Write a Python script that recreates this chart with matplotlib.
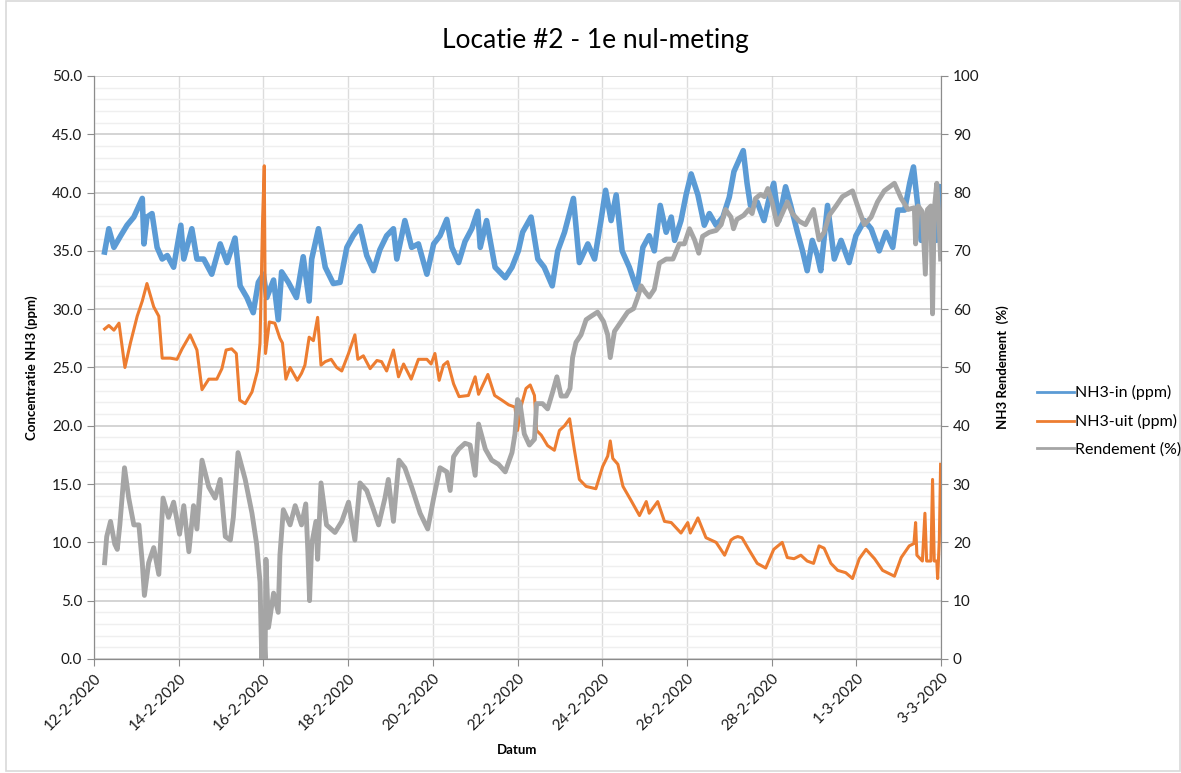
import pandas as pd
import matplotlib
matplotlib.use('Agg')
import matplotlib.pyplot as plt
from matplotlib.patches import Rectangle
from matplotlib.lines import Line2D
from matplotlib.ticker import MultipleLocator

plt.rcParams['font.family'] = ['Lato', 'DejaVu Sans']

start = pd.Timestamp('2020-02-12')

# days since 12-2-2020 00:00
in_days = [0.25, 0.35, 0.47, 0.63, 0.78, 0.94, 1.14, 1.18, 1.25, 1.37, 1.49, 1.61, 1.73, 1.88,
           2.05, 2.12, 2.31, 2.43, 2.59, 2.78, 2.98, 3.14, 3.33, 3.45, 3.61, 3.76, 3.88, 4.0,
           4.08, 4.24, 4.35, 4.43, 4.59, 4.78, 4.94, 5.08, 5.14, 5.30, 5.46, 5.65, 5.81, 5.97,
           6.12, 6.28, 6.44, 6.60, 6.75, 6.91, 7.07, 7.15, 7.34, 7.50, 7.66, 7.86, 8.02, 8.17,
           8.33, 8.45, 8.61, 8.76, 8.92, 9.06, 9.12, 9.27, 9.47, 9.71, 9.87, 10.02, 10.12, 10.32,
           10.48, 10.63, 10.82, 10.95, 11.11, 11.32, 11.46, 11.66, 11.82, 11.97, 12.08, 12.21,
           12.33, 12.47, 12.64, 12.82, 12.96, 13.11, 13.23, 13.37, 13.51, 13.63, 13.71, 13.86,
           13.98, 14.10, 14.26, 14.41, 14.53, 14.69, 14.85, 15.0, 15.11, 15.33, 15.42, 15.50,
           15.66, 15.82, 15.94, 16.05, 16.17, 16.33, 16.45, 16.61, 16.73, 16.84, 16.96, 17.08,
           17.16, 17.32, 17.48, 17.64, 17.83, 17.99, 18.19, 18.35, 18.54, 18.70, 18.86, 18.98,
           19.14, 19.26, 19.35, 19.45, 19.53, 19.65, 19.77, 19.89, 19.99]
in_vals = [34.9, 36.9, 35.3, 36.3, 37.2, 37.9, 39.5, 35.6, 37.9, 38.2, 35.3, 34.3, 34.6, 33.6,
           37.2, 34.3, 36.9, 34.3, 34.3, 33.0, 35.6, 34.0, 36.1, 32.0, 31.0, 29.7, 32.3, 33.0,
           31.0, 32.5, 29.1, 33.2, 32.3, 31.0, 34.5, 30.7, 34.3, 36.9, 33.6, 32.2, 32.3, 35.3,
           36.3, 37.1, 34.6, 33.3, 35.1, 36.3, 36.9, 34.3, 37.6, 35.3, 35.6, 33.0, 35.6, 36.3,
           37.7, 35.3, 34.0, 35.8, 36.9, 38.4, 35.3, 37.6, 33.6, 32.7, 33.6, 35.0, 36.6, 37.9,
           34.3, 33.6, 32.0, 35.0, 36.6, 39.5, 34.0, 35.6, 34.3, 37.6, 40.2, 37.6,
           39.8, 35.0, 33.6, 31.7, 35.3, 36.3, 35.0, 38.9, 36.6, 37.9, 35.9, 37.6,
           39.8, 41.6, 39.8, 37.2, 38.2, 37.2, 37.9, 39.6, 41.8, 43.6, 40.8, 38.9,
           39.2, 37.6, 39.5, 40.8, 37.6, 40.5, 38.9, 36.6, 35.0, 33.3, 35.9, 34.6,
           33.3, 38.9, 34.3, 35.9, 34.0, 36.3, 37.6, 36.9, 35.0, 36.6, 35.3, 38.5,
           38.5, 40.8, 42.2, 38.9, 35.9, 36.9, 38.2, 35.9, 40.5]

uit_days = [0.25, 0.35, 0.47, 0.59, 0.73, 0.86, 1.02, 1.14, 1.25, 1.41, 1.53, 1.61, 1.80, 1.96,
            2.08, 2.27, 2.43, 2.55, 2.71, 2.90, 3.02, 3.12, 3.25, 3.36, 3.44, 3.57, 3.73, 3.86,
            3.92, 3.98, 4.02, 4.05, 4.14, 4.27, 4.39, 4.45, 4.53, 4.63, 4.80, 4.90, 4.98, 5.08,
            5.18, 5.28, 5.36, 5.46, 5.60, 5.73, 5.85, 6.01, 6.16, 6.23, 6.36, 6.52, 6.68, 6.79,
            6.91, 7.07, 7.19, 7.31, 7.49, 7.66, 7.86, 7.96, 8.05, 8.15, 8.25, 8.35, 8.49, 8.62,
            8.84, 9.00, 9.08, 9.30, 9.46, 9.63, 9.79, 9.94, 10.0, 10.08, 10.20, 10.30, 10.40,
            10.45, 10.56, 10.71, 10.87, 10.99, 11.11, 11.23, 11.34, 11.46, 11.62, 11.85, 12.01,
            12.13, 12.19, 12.25, 12.37, 12.49, 12.68, 12.88, 13.04, 13.11, 13.31, 13.47, 13.63,
            13.86, 14.02, 14.08, 14.26, 14.45, 14.69, 14.89, 15.04, 15.12, 15.20, 15.30, 15.46,
            15.66, 15.86, 16.05, 16.25, 16.37, 16.53, 16.69, 16.84, 16.99, 17.12, 17.24, 17.40,
            17.56, 17.75, 17.91, 18.07, 18.23, 18.43, 18.62, 18.90, 19.06, 19.25, 19.36, 19.40,
            19.43, 19.56, 19.62, 19.66, 19.76, 19.80, 19.84, 19.90, 19.92, 19.96, 19.99]
uit_vals = [28.3, 28.6, 28.2, 28.8, 25.0, 27.1, 29.4, 30.7, 32.2, 30.2, 29.4, 25.8, 25.8, 25.7,
            26.6, 27.8, 26.5, 23.1, 24.0, 24.0, 24.9, 26.5, 26.6, 26.2, 22.2, 21.9, 22.9, 24.7,
            27.1, 37.6, 42.3, 26.2, 28.9, 28.8, 27.5, 27.1, 24.0, 25.0, 23.9, 24.5, 25.2, 27.6,
            27.3, 29.3, 25.2, 25.5, 25.7, 25.0, 24.7, 26.2, 27.8, 25.7, 26.0, 24.9, 25.6, 25.5,
            24.7, 26.5, 24.2, 25.3, 24.0, 25.7, 25.7, 25.3, 26.2, 23.9, 25.2, 25.5, 23.6, 22.5,
            22.6, 24.2, 22.7, 24.4, 22.6, 22.2, 21.8, 21.6, 19.6, 21.6, 23.2, 23.5, 22.6,
            19.6, 19.2, 18.3, 17.9, 19.6, 20.0, 20.6, 18.0, 15.4, 14.8, 14.6, 16.5,
            17.4, 18.7, 17.2, 16.7, 14.8, 13.6, 12.3, 13.5, 12.5, 13.5, 11.8, 11.7,
            10.8, 11.7, 10.8, 12.1, 10.4, 10.0, 8.9, 10.2, 10.4, 10.5, 10.4, 9.4,
            8.2, 7.8, 9.4, 10.0, 8.7, 8.6, 8.9, 8.4, 8.2, 9.7, 9.5, 8.2,
            7.6, 7.4, 6.9, 8.6, 9.4, 8.6, 7.6, 7.1, 8.7, 9.7, 9.9, 11.7,
            8.9, 8.4, 12.5, 8.4, 8.4, 15.4, 8.4, 8.4, 6.9, 10.2, 16.7]

rend_days = [0.25, 0.30, 0.39, 0.49, 0.55, 0.61, 0.72, 0.82, 0.94, 1.06, 1.14, 1.19, 1.29, 1.41,
             1.53, 1.63, 1.76, 1.88, 2.02, 2.12, 2.24, 2.35, 2.43, 2.55, 2.71, 2.86, 2.98, 3.10,
             3.22, 3.29, 3.40, 3.57, 3.73, 3.84, 3.92, 3.96, 4.00, 4.04, 4.06, 4.12, 4.24, 4.35,
             4.39, 4.47, 4.63, 4.75, 4.90, 5.00, 5.05, 5.09, 5.14, 5.24, 5.28, 5.36, 5.49, 5.69,
             5.85, 6.01, 6.16, 6.28, 6.44, 6.60, 6.72, 6.87, 6.95, 7.07, 7.20, 7.34, 7.50, 7.70,
             7.88, 8.02, 8.17, 8.33, 8.41, 8.49, 8.61, 8.76, 8.88, 9.00, 9.08, 9.24, 9.39, 9.55,
             9.71, 9.87, 9.94, 10.0, 10.06, 10.16, 10.28, 10.40, 10.45, 10.59, 10.71, 10.83, 10.93,
             11.03, 11.15, 11.24, 11.30, 11.38, 11.50, 11.62, 11.74, 11.89, 12.03, 12.13, 12.19,
             12.29, 12.45, 12.60, 12.74, 12.84, 12.92, 13.00, 13.11, 13.23, 13.35, 13.51, 13.67,
             13.82, 13.94, 14.06, 14.18, 14.28, 14.37, 14.53, 14.69, 14.81, 14.91, 15.04, 15.10,
             15.18, 15.34, 15.46, 15.54, 15.62, 15.74, 15.83, 15.91, 16.01, 16.13, 16.25, 16.37,
             16.49, 16.65, 16.80, 16.99, 17.12, 17.24, 17.36, 17.52, 17.67, 17.91, 18.03, 18.19,
             18.35, 18.50, 18.66, 18.90, 19.06, 19.22, 19.37, 19.40, 19.46, 19.56, 19.63, 19.68,
             19.76, 19.80, 19.84, 19.90, 19.94, 19.99]
rend_vals = [16.5, 21.0, 23.6, 19.7, 18.8, 23.0, 32.8, 27.6, 23.0, 23.0, 16.5, 10.9, 16.5, 19.1,
             14.5, 27.6, 24.3, 26.9, 21.4, 26.3, 18.4, 26.3, 22.3, 34.1, 29.5, 27.6, 30.8, 21.0,
             20.4, 24.3, 35.4, 30.8, 25.0, 19.7, 13.2, 0.0, 6.7, 0.0, 17.1, 5.4, 11.3, 8.0,
             17.8, 25.6, 23.0, 26.3, 23.0, 26.6, 18.4, 10.0, 19.7, 23.6, 17.1, 30.2, 23.0, 21.7,
             23.6, 26.9, 20.4, 30.2, 28.9, 25.6, 23.0, 27.6, 30.8, 23.6, 34.1, 32.8, 29.5, 25.0,
             22.3, 27.6, 32.8, 32.1, 28.9, 34.7, 36.0, 37.0, 36.7, 31.5, 40.3, 36.0, 34.1, 33.4,
             32.1, 35.4, 38.6, 44.5, 43.8, 38.6, 36.7, 37.7, 43.8, 43.8, 42.9, 45.8, 48.4,
             45.1, 45.1, 46.4, 51.7, 54.3, 55.6, 58.2, 58.8, 59.5, 57.9, 55.6, 51.7,
             56.2, 57.9, 59.5, 60.1, 62.1, 64.0, 63.1, 62.1, 63.4, 67.9, 68.6, 68.6,
             71.2, 71.2, 73.8, 71.9, 69.6, 72.5, 73.2, 73.5, 74.5, 77.1, 75.8, 73.8,
             75.4, 76.1, 77.1, 76.4, 79.0, 79.7, 79.3, 80.7, 78.4, 74.5, 76.4, 78.4,
             76.4, 75.1, 74.5, 77.1, 71.9, 73.2, 76.1, 77.7, 79.3, 80.3, 77.7, 74.5,
             75.8, 78.4, 80.3, 81.6, 79.0, 77.1, 77.4, 71.2, 77.7, 76.7, 66.0, 77.1,
             77.7, 59.2, 77.1, 81.6, 77.1, 68.6]

def to_dates(days):
    return start + pd.to_timedelta(days, unit='D')

fig = plt.figure(figsize=(11.81, 7.73), dpi=100)
ax = fig.add_axes([0.0796, 0.1475, 0.7172, 0.7542])
ax2 = ax.twinx()

c_in, c_uit, c_rend = '#5B9BD5', '#ED7D31', '#A5A5A5'
ax.plot(to_dates(in_days), in_vals, color=c_in, lw=4, solid_joinstyle='round')
ax.plot(to_dates(uit_days), uit_vals, color=c_uit, lw=2.2, solid_joinstyle='round')
ax2.plot(to_dates(rend_days), rend_vals, color=c_rend, lw=3.5, solid_joinstyle='round')

ax.set_ylim(0, 50)
ax.yaxis.set_major_locator(MultipleLocator(5))
ax.yaxis.set_minor_locator(MultipleLocator(1))
ax.set_yticklabels([f'{v:.1f}' for v in ax.get_yticks()])
ax2.set_ylim(0, 100)
ax2.yaxis.set_major_locator(MultipleLocator(10))

ticks = pd.date_range('2020-02-12', '2020-03-03', freq='2D')
ax.set_xlim(ticks[0], ticks[-1])
ax.set_xticks(ticks)
ax.set_xticklabels([f'{d.day}-{d.month}-{d.year}' for d in ticks], rotation=45,
                   ha='right', rotation_mode='anchor')

ax.grid(which='major', axis='y', color='#C9C9C9', lw=1.1)
ax.grid(which='minor', axis='y', color='#EFEFEF', lw=1.0)
ax.grid(which='major', axis='x', color='#DCDCDC', lw=1.0)
ax.set_axisbelow(True)

for a in (ax, ax2):
    a.spines['top'].set_visible(False)
    for s in ('left', 'right', 'bottom'):
        a.spines[s].set_color('#8C8C8C')
    a.tick_params(which='major', colors='#8C8C8C', labelcolor='#1A1A1A', labelsize=11, length=5)
    a.tick_params(which='minor', length=0)

ax.set_ylabel('Concentratie NH3 (ppm)', fontweight='bold', fontsize=9.5, labelpad=10)
ax2.set_ylabel('NH3 Rendement  (%)', fontweight='bold', fontsize=9.5, labelpad=12)
ax.set_xlabel('Datum', fontweight='bold', fontsize=9.5, labelpad=8)
fig.text(0.504, 0.948, 'Locatie #2 - 1e nul-meting', ha='center', va='center', fontsize=19)

handles = [Line2D([], [], color=c_in, lw=2), Line2D([], [], color=c_uit, lw=2),
           Line2D([], [], color=c_rend, lw=2)]
fig.legend(handles, ['NH3-in (ppm)', 'NH3-uit (ppm)', 'Rendement (%)'], loc='upper left',
           bbox_to_anchor=(0.866, 0.52), frameon=False, fontsize=11.5, handlelength=2.3,
           handletextpad=0.1, labelspacing=0.85)

fig.patches.append(Rectangle((0.005, 0.003), 0.994, 0.996, transform=fig.transFigure,
                             fill=False, edgecolor='#D9D9D9', lw=1.2))

fig.savefig('out.png', dpi=100)
